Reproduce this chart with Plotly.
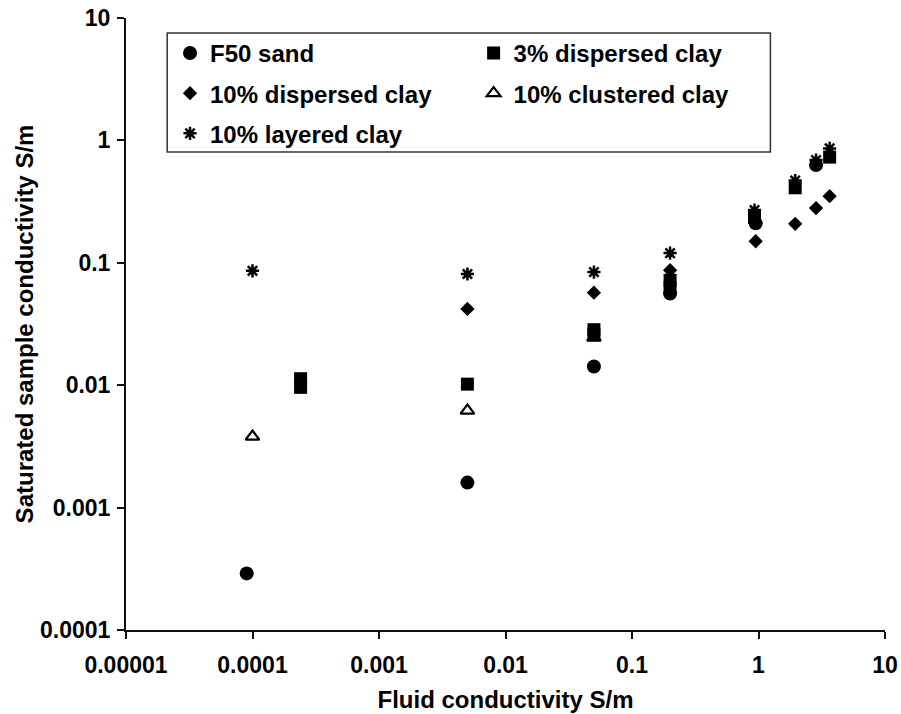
import plotly.graph_objects as go

# ---- data ----
sand_x = [0.00009, 0.005, 0.05, 0.2, 0.95, 2.85]
sand_y = [0.00029, 0.0016, 0.0142, 0.056, 0.21, 0.63]

disp3_x = [0.00024, 0.00024, 0.005, 0.05, 0.05, 0.2, 0.2, 0.93, 1.95, 3.65]
disp3_y = [0.0113, 0.0096, 0.0102, 0.0284, 0.0259, 0.072, 0.063, 0.235, 0.41, 0.73]

disp10_x = [0.005, 0.05, 0.2, 0.95, 1.95, 2.85, 3.65]
disp10_y = [0.042, 0.057, 0.087, 0.15, 0.208, 0.28, 0.35]

clus10_x = [0.0001, 0.005, 0.05]
clus10_y = [0.0038, 0.0062, 0.0245]

layer10_x = [0.0001, 0.005, 0.05, 0.2, 0.93, 1.95, 2.85, 3.65]
layer10_y = [0.086, 0.081, 0.084, 0.12, 0.27, 0.47, 0.69, 0.86]

x_ticks = [0.00001, 0.0001, 0.001, 0.01, 0.1, 1, 10]
x_ticktext = ["0.00001", "0.0001", "0.001", "0.01", "0.1", "1", "10"]
y_ticks = [0.0001, 0.001, 0.01, 0.1, 1, 10]
y_ticktext = ["0.0001", "0.001", "0.01", "0.1", "1", "10"]

FONT = "Liberation Sans, Arial, sans-serif"

fig = go.Figure()

fig.add_trace(go.Scatter(x=sand_x, y=sand_y, mode="markers", name="F50 sand",
                         legend="legend", legendgroup="a",
                         marker=dict(symbol="circle", size=14, color="black")))
fig.add_trace(go.Scatter(x=disp3_x, y=disp3_y, mode="markers", name="3% dispersed clay",
                         legend="legend2", legendgroup="b",
                         marker=dict(symbol="square", size=13, color="black")))
fig.add_trace(go.Scatter(x=disp10_x, y=disp10_y, mode="markers", name="10% dispersed clay",
                         legend="legend", legendgroup="c",
                         marker=dict(symbol="diamond", size=11, color="black")))
fig.add_trace(go.Scatter(x=clus10_x, y=clus10_y, mode="markers", name="10% clustered clay",
                         legend="legend2", legendgroup="d",
                         marker=dict(symbol="triangle-up-open", size=12, color="black",
                                     line=dict(width=2.2, color="black"))))
fig.add_trace(go.Scatter(x=layer10_x, y=layer10_y, mode="markers", name="10% layered clay",
                         legend="legend", legendgroup="e",
                         marker=dict(symbol="asterisk-open", size=11, color="black",
                                     line=dict(width=2.5, color="black"))))

axis_common = dict(
    type="log", automargin=False,
    showline=True, linecolor="#111", linewidth=2,
    ticks="outside", ticklen=7, tickwidth=1.5, tickcolor="#111",
    showgrid=False, zeroline=False, mirror=False,
    tickfont=dict(family=FONT, size=23, color="black", weight="bold"),
)

fig.update_xaxes(**axis_common, range=[-5, 1], tickvals=x_ticks, ticktext=x_ticktext,
                 ticklabelstandoff=6,
                 title=dict(text="<b>Fluid conductivity S/m</b>",
                            font=dict(family=FONT, size=24, color="black"), standoff=15))
fig.update_yaxes(**axis_common, range=[-4, 1], tickvals=y_ticks, ticktext=y_ticktext,
                 ticklabelstandoff=2,
                 title=dict(text="<b>Saturated sample conductivity S/m</b>",
                            font=dict(family=FONT, size=24, color="black"), standoff=0))

legend_common = dict(
    bgcolor="rgba(0,0,0,0)", borderwidth=0,
    font=dict(family=FONT, size=24, color="black", weight="bold"),
    orientation="v", tracegroupgap=6, xanchor="left", yanchor="top",
    itemsizing="trace",
)

fig.update_layout(
    width=901, height=714,
    margin=dict(l=126, r=16, t=18, b=84, autoexpand=False),
    paper_bgcolor="white", plot_bgcolor="white",
    showlegend=True,
    legend=dict(**legend_common, x=0.058, y=0.979),
    legend2=dict(**legend_common, x=0.458, y=0.979),
    shapes=[dict(type="rect", xref="paper", yref="paper",
                 x0=0.0543, x1=0.849, y0=0.781, y1=0.9755,
                 line=dict(color="#333", width=1.5), fillcolor="rgba(0,0,0,0)")],
)

fig.write_html("out.html", config={"displayModeBar": False},
               post_script="document.body.style.margin='0';document.body.style.padding='0';")
